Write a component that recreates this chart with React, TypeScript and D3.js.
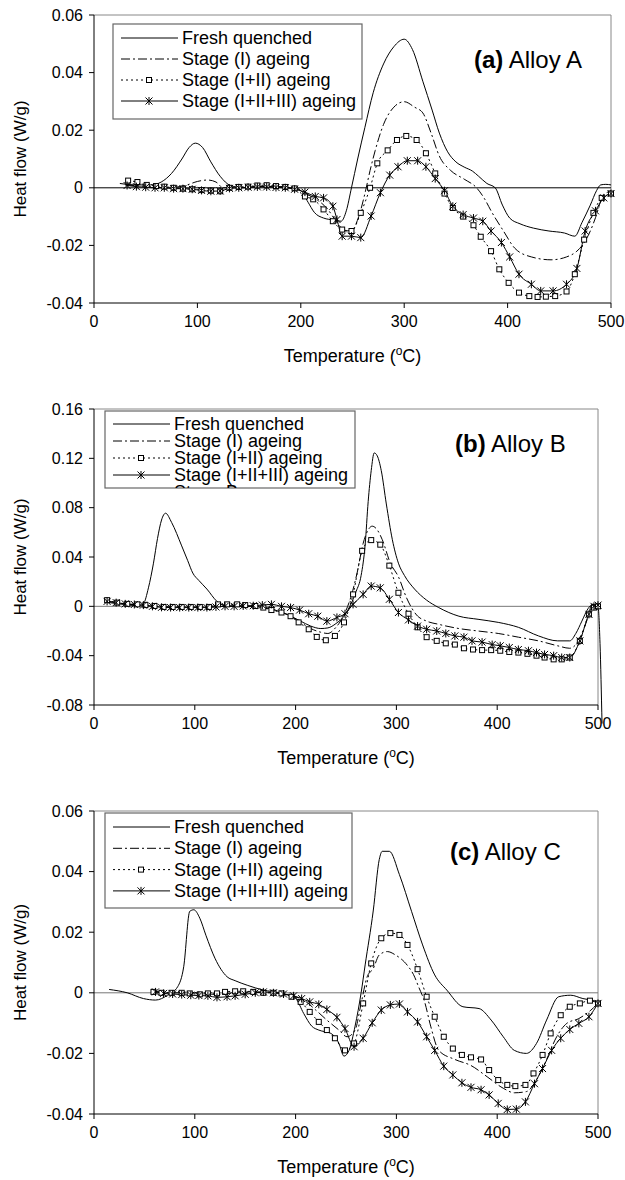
import React from "react";
import * as d3 from "d3";

type Pt = [number, number];

const xTicks = [0, 100, 200, 300, 400, 500];
const aYTicks = [-0.04, -0.02, 0, 0.02, 0.04, 0.06];
const bYTicks = [-0.08, -0.04, 0, 0.04, 0.08, 0.12, 0.16];
const cYTicks = [-0.04, -0.02, 0, 0.02, 0.04, 0.06];
const seriesNames = ["Fresh quenched", "Stage (I) ageing", "Stage (I+II) ageing", "Stage (I+II+III) ageing"];

// ---- Panel (a) Alloy A ----
const aFresh: Pt[] = [[25,0.0015],[40,0.001],[55,0.001],[65,0.002],[75,0.005],[85,0.01],[92,0.014],[98,0.0155],[105,0.014],[113,0.009],[122,0.004],[132,0.0008],[145,0],[160,0.0005],[175,0.0005],[190,0],[200,-0.001],[207,-0.005],[213,-0.0085],[222,-0.0105],[232,-0.0112],[239,-0.0116],[244,-0.008],[249,0],[255,0.01],[262,0.021],[270,0.033],[280,0.043],[290,0.049],[300,0.0516],[308,0.048],[318,0.037],[327,0.027],[334,0.019],[342,0.0125],[350,0.009],[358,0.0072],[366,0.0058],[372,0.004],[380,0.0015],[388,0],[395,-0.006],[402,-0.0105],[412,-0.0125],[425,-0.014],[440,-0.015],[455,-0.0157],[465,-0.0168],[472,-0.012],[480,-0.006],[486,-0.001],[490,0.001],[495,0.0012],[500,0.001]];
const aStage1: Pt[] = [[30,0.001],[50,0.0005],[70,0],[90,0.001],[100,0.0022],[110,0.0027],[118,0.002],[125,0],[140,0],[160,0.0005],[180,0.0003],[195,0],[205,-0.002],[215,-0.004],[225,-0.007],[235,-0.012],[243,-0.015],[250,-0.0145],[256,-0.01],[262,-0.002],[267,0.006],[272,0.013],[280,0.022],[290,0.028],[300,0.0299],[310,0.028],[318,0.026],[326,0.019],[334,0.011],[345,0.006],[358,0.003],[370,0],[378,-0.004],[384,-0.008],[396,-0.015],[407,-0.021],[423,-0.024],[442,-0.025],[457,-0.024],[467,-0.022],[473,-0.0196],[480,-0.015],[485,-0.0104],[492,-0.003],[500,-0.001]];
const aStage12: Pt[] = [[33,0.0025],[42,0.002],[51,0.001],[60,0.0006],[68,0.0004],[77,0],[86,-0.0003],[95,-0.0005],[104,-0.0008],[113,-0.001],[122,-0.0012],[131,0],[140,0.0003],[149,0.0004],[158,0.0008],[167,0.0009],[176,0.0006],[185,0.0003],[194,-0.0002],[204,-0.003],[212,-0.004],[222,-0.0075],[231,-0.0116],[240,-0.0145],[249,-0.015],[258,-0.0087],[267,0],[274,0.0085],[284,0.013],[293,0.0166],[302,0.018],[312,0.0166],[321,0.012],[330,0.005],[339,-0.002],[347,-0.007],[357,-0.01],[367,-0.013],[374,-0.017],[384,-0.022],[392,-0.0283],[401,-0.033],[411,-0.0364],[421,-0.0376],[429,-0.0379],[437,-0.0378],[446,-0.0376],[457,-0.036],[465,-0.03],[474,-0.018],[483,-0.0087],[491,-0.0035],[500,-0.002]];
const aStage123: Pt[] = [[32,0.0008],[41,0.0004],[50,0.0002],[59,0],[68,0],[77,-0.0003],[86,-0.0003],[95,-0.0005],[104,-0.0009],[113,-0.0012],[122,-0.0011],[131,-0.0002],[140,0],[149,0.0002],[158,0.0003],[167,0.0003],[176,0.0001],[185,0],[194,-0.0005],[204,-0.0015],[214,-0.003],[222,-0.0035],[231,-0.0064],[235,-0.011],[240,-0.0168],[249,-0.0168],[258,-0.0173],[268,-0.0098],[277,-0.0017],[286,0.0044],[294,0.0073],[303,0.0094],[313,0.0094],[321,0.0073],[330,0.0032],[339,-0.001],[347,-0.0064],[357,-0.0093],[367,-0.0105],[376,-0.0116],[384,-0.015],[394,-0.019],[402,-0.024],[411,-0.03],[423,-0.0335],[432,-0.0358],[444,-0.0358],[457,-0.0335],[467,-0.028],[475,-0.015],[485,-0.008],[493,-0.0035],[500,-0.002]];

// ---- Panel (b) Alloy B ----
const bFresh: Pt[] = [[15,0.003],[25,0.002],[35,0.001],[45,0.0005],[49,0.002],[54,0.015],[59,0.035],[63,0.055],[67,0.07],[71,0.0755],[77,0.068],[87,0.049],[93,0.037],[98,0.027],[104,0.021],[112,0.014],[122,0.004],[132,0],[150,0],[165,-0.0005],[175,-0.002],[190,-0.006],[205,-0.012],[215,-0.016],[225,-0.018],[232,-0.0175],[240,-0.014],[248,-0.008],[255,0.002],[260,0.012],[265,0.025],[269,0.05],[272,0.085],[275,0.11],[278,0.1244],[281,0.122],[285,0.11],[290,0.083],[296,0.054],[302,0.035],[308,0.025],[318,0.014],[330,0.005],[342,-0.001],[352,-0.005],[362,-0.008],[381,-0.0105],[401,-0.013],[421,-0.017],[441,-0.024],[460,-0.028],[472,-0.028],[478,-0.022],[484,-0.012],[490,-0.002],[495,0.0015],[500,0],[502,-0.03],[504,-0.095]];
const bStage1: Pt[] = [[15,0.004],[30,0.002],[45,0.001],[60,0],[80,-0.0005],[100,-0.0005],[120,-0.0003],[140,0.0005],[160,0],[175,-0.002],[190,-0.006],[205,-0.013],[215,-0.018],[225,-0.021],[232,-0.022],[240,-0.017],[248,-0.007],[255,0.008],[261,0.027],[267,0.051],[272,0.062],[276,0.065],[281,0.062],[286,0.054],[294,0.035],[302,0.024],[310,0.007],[320,-0.007],[330,-0.012],[342,-0.0146],[362,-0.018],[381,-0.02],[401,-0.022],[421,-0.025],[441,-0.028],[460,-0.032],[472,-0.034],[478,-0.031],[484,-0.022],[490,-0.009],[494,0.0016],[498,0.002],[501,0]];
const bStage12: Pt[] = [[13,0.005],[23,0.003],[33,0.002],[43,0.0016],[51,0.001],[60,0.0003],[69,-0.0005],[78,-0.0005],[87,-0.0005],[96,-0.0005],[105,-0.0005],[114,-0.0005],[123,0.0016],[132,0.0016],[142,0.0016],[150,0.001],[160,0.0003],[168,-0.001],[176,-0.003],[186,-0.005],[195,-0.008],[203,-0.013],[213,-0.0186],[221,-0.0248],[230,-0.0275],[239,-0.024],[248,-0.013],[257,0.0097],[266,0.045],[275,0.0537],[284,0.05],[293,0.033],[302,0.011],[312,-0.006],[321,-0.017],[330,-0.025],[340,-0.028],[349,-0.03],[358,-0.031],[367,-0.034],[376,-0.035],[385,-0.0355],[394,-0.0355],[403,-0.036],[412,-0.037],[421,-0.0375],[430,-0.0385],[439,-0.04],[447,-0.0415],[456,-0.043],[464,-0.043],[472,-0.0415],[482,-0.028],[491,-0.0065],[496,-0.001],[500,0]];
const bStage123: Pt[] = [[13,0.004],[22,0.003],[31,0.002],[40,0.0015],[49,0.001],[58,0],[67,-0.0008],[76,-0.001],[85,-0.001],[94,-0.001],[103,-0.001],[112,-0.001],[121,-0.0005],[130,0],[139,0],[148,0.0003],[158,0.0005],[167,0.001],[176,0.0016],[186,0],[195,-0.001],[204,-0.003],[213,-0.006],[222,-0.008],[231,-0.012],[241,-0.009],[249,-0.006],[257,0.0016],[267,0.0097],[275,0.0164],[284,0.015],[293,0.0057],[302,-0.005],[312,-0.011],[321,-0.016],[330,-0.0186],[340,-0.02],[349,-0.022],[358,-0.024],[367,-0.025],[375,-0.028],[385,-0.029],[395,-0.031],[403,-0.032],[412,-0.0334],[421,-0.035],[431,-0.036],[439,-0.0375],[447,-0.039],[456,-0.04],[464,-0.0415],[472,-0.0415],[482,-0.028],[491,-0.0065],[496,0],[500,0.001]];

// ---- Panel (c) Alloy C ----
const cFresh: Pt[] = [[15,0.0011],[33,0],[49,-0.0019],[61,-0.0024],[73,-0.0008],[83,0.002],[89,0.0086],[95,0.0269],[99,0.0274],[105,0.0246],[111,0.019],[120,0.0114],[132,0.0053],[140,0.004],[152,0.0025],[168,0.0009],[184,0],[200,-0.0019],[208,-0.0068],[216,-0.011],[223,-0.0123],[235,-0.0134],[243,-0.0167],[248,-0.0209],[253,-0.019],[259,-0.011],[265,0],[269,0.0092],[277,0.027],[283,0.044],[286,0.0467],[293,0.0467],[303,0.039],[315,0.0269],[326,0.0158],[338,0.0059],[350,0.0009],[366,-0.0046],[382,-0.0052],[394,-0.009],[406,-0.0145],[417,-0.019],[429,-0.02],[439,-0.0167],[449,-0.009],[461,-0.0013],[473,-0.0008],[485,-0.0019],[493,-0.0024],[500,-0.003]];
const cStage1: Pt[] = [[60,0.0005],[80,0],[100,0],[120,-0.0005],[140,0],[160,0.0003],[180,0],[195,-0.001],[208,-0.0024],[220,-0.0057],[231,-0.009],[243,-0.0123],[251,-0.0145],[259,-0.0123],[265,-0.0035],[271,0.0053],[277,0.008],[283,0.0125],[291,0.0136],[299,0.0125],[311,0.009],[317,0.006],[322,0.002],[328,-0.003],[334,-0.011],[342,-0.019],[358,-0.022],[374,-0.024],[390,-0.0277],[406,-0.0315],[417,-0.033],[429,-0.0326],[439,-0.0287],[449,-0.022],[459,-0.0145],[469,-0.0101],[481,-0.0085],[493,-0.0057],[500,-0.0035]];
const cStage12: Pt[] = [[59,0.0003],[67,0],[77,0],[87,0],[95,-0.0002],[105,-0.0005],[113,-0.0002],[122,-0.0002],[130,0.0003],[140,0.0005],[148,0.0005],[158,0.0003],[168,0],[178,0],[186,-0.0002],[196,-0.0013],[205,-0.003],[214,-0.0063],[223,-0.0096],[231,-0.0123],[239,-0.015],[249,-0.019],[258,-0.0167],[267,-0.0035],[275,0.0097],[285,0.018],[294,0.0197],[303,0.0191],[311,0.0158],[321,0.0078],[330,-0.0013],[338,-0.0079],[347,-0.0145],[356,-0.0184],[365,-0.0205],[374,-0.0213],[384,-0.022],[392,-0.0255],[401,-0.0288],[410,-0.0304],[418,-0.0308],[428,-0.0304],[436,-0.0266],[445,-0.0205],[453,-0.0134],[463,-0.0074],[472,-0.0046],[482,-0.0035],[492,-0.0026],[500,-0.0035]];
const cStage123: Pt[] = [[61,0.0003],[69,-0.0002],[78,-0.0004],[87,-0.0006],[96,-0.0008],[104,-0.0009],[113,-0.001],[122,-0.0015],[132,-0.0013],[140,-0.001],[150,-0.0005],[160,0],[168,0.0003],[178,0],[188,-0.0004],[198,-0.001],[206,-0.0019],[214,-0.003],[223,-0.0038],[231,-0.0055],[241,-0.0081],[249,-0.0118],[258,-0.0178],[267,-0.015],[276,-0.0099],[285,-0.0057],[294,-0.004],[303,-0.0037],[311,-0.0063],[321,-0.0096],[330,-0.0145],[338,-0.019],[347,-0.0242],[356,-0.0271],[365,-0.0297],[374,-0.0312],[384,-0.032],[392,-0.0337],[401,-0.0365],[410,-0.0385],[419,-0.0384],[428,-0.036],[437,-0.03],[445,-0.025],[454,-0.019],[463,-0.015],[472,-0.0121],[481,-0.0101],[491,-0.0079],[500,-0.0035]];

const FONT = "Arial, 'Liberation Sans', Helvetica, sans-serif";

type PanelCfg = {
  letter: string; name: string; series: Pt[][]; yTicks: number[];
  box: { l: number; r: number; t: number; b: number };
  legend: { x: number; y: number; w: number; h: number; first: number; row: number; extra?: string };
  label: { x: number; y: number };
  zeroColor: string;
};

const panels: PanelCfg[] = [
  { letter: "(a)", name: "Alloy A", series: [aFresh, aStage1, aStage12, aStage123], yTicks: aYTicks,
    box: { l: 94, r: 611, t: 15, b: 303 }, legend: { x: 113, y: 24, w: 249, h: 95, first: 44, row: 21 },
    label: { x: 474, y: 68 }, zeroColor: "#000" },
  { letter: "(b)", name: "Alloy B", series: [bFresh, bStage1, bStage12, bStage123], yTicks: bYTicks,
    box: { l: 94, r: 598, t: 409, b: 705 }, legend: { x: 105, y: 411, w: 250, h: 77, first: 430, row: 17, extra: "Stage B" },
    label: { x: 455, y: 452 }, zeroColor: "#777" },
  { letter: "(c)", name: "Alloy C", series: [cFresh, cStage1, cStage12, cStage123], yTicks: cYTicks,
    box: { l: 94, r: 598, t: 811, b: 1114 }, legend: { x: 105, y: 813, w: 247, h: 95, first: 833, row: 21.3 },
    label: { x: 450, y: 860 }, zeroColor: "#777" },
];

const dashes = [undefined, "9,3,2,3", "2,3", undefined];

function Square({ x, y }: { x: number; y: number }) {
  return <rect x={x - 2.5} y={y - 2.5} width={5} height={5} fill="#fff" stroke="#000" strokeWidth={1} />;
}
function Star({ x, y }: { x: number; y: number }) {
  const s = 3.5;
  return <path d={`M${x - s},${y - s}L${x + s},${y + s}M${x - s},${y + s}L${x + s},${y - s}M${x},${y - s - 0.5}L${x},${y + s + 0.5}`} stroke="#000" strokeWidth={1} fill="none" />;
}

function Panel({ p, idx }: { p: PanelCfg; idx: number }) {
  const { box } = p;
  const x = d3.scaleLinear().domain([0, 500]).range([box.l, box.r]);
  const yMin = p.yTicks[0], yMax = p.yTicks[p.yTicks.length - 1];
  const y = d3.scaleLinear().domain([yMin, yMax]).range([box.b, box.t]);
  const line = d3.line<Pt>().x(d => x(d[0])).y(d => y(d[1])).curve(d3.curveMonotoneX);
  const fmt = (v: number) => (Math.abs(v) < 1e-9 ? "0" : v.toFixed(2));
  const lg = p.legend;
  const clipId = `lg${idx}`;
  const cy = (box.t + box.b) / 2;
  return (
    <g fontFamily={FONT}>
      <line x1={box.l} x2={box.r} y1={box.t} y2={box.t} stroke="#888" strokeWidth={1} />
      <line x1={box.r} x2={box.r} y1={box.t} y2={box.b} stroke="#888" strokeWidth={1} />
      <line x1={box.l} x2={box.r} y1={y(0)} y2={y(0)} stroke={p.zeroColor} strokeWidth={1} />
      <line x1={box.l} x2={box.l} y1={box.t} y2={box.b} stroke="#000" strokeWidth={1} />
      <line x1={box.l} x2={box.r} y1={box.b} y2={box.b} stroke="#000" strokeWidth={1} />
      {p.yTicks.map(t => (
        <g key={t}>
          <line x1={box.l - 5} x2={box.l} y1={y(t)} y2={y(t)} stroke="#000" />
          <text x={box.l - 11} y={y(t)} dy="0.35em" textAnchor="end" fontSize={16}>{fmt(t)}</text>
        </g>
      ))}
      {xTicks.map(t => (
        <g key={t}>
          <line x1={x(t)} x2={x(t)} y1={box.b} y2={box.b + 5} stroke="#000" />
          <text x={x(t)} y={box.b + 24} textAnchor="middle" fontSize={16}>{t}</text>
        </g>
      ))}
      <text x={(box.l + box.r) / 2} y={box.b + 59} textAnchor="middle" fontSize={18}>
        Temperature (<tspan dy={-7} fontSize={12}>o</tspan><tspan dy={7}>C)</tspan>
      </text>
      <text transform={`translate(26,${cy}) rotate(-90)`} textAnchor="middle" fontSize={17}>Heat flow (W/g)</text>
      {p.series.map((s, i) => (
        <path key={i} d={line(s) || ""} fill="none" stroke="#000" strokeWidth={1} strokeDasharray={dashes[i]} />
      ))}
      {p.series[2].map((d, i) => <Square key={`s${i}`} x={x(d[0])} y={y(d[1])} />)}
      {p.series[3].map((d, i) => <Star key={`a${i}`} x={x(d[0])} y={y(d[1])} />)}
      <clipPath id={clipId}><rect x={lg.x} y={lg.y} width={lg.w} height={lg.h} /></clipPath>
      <rect x={lg.x} y={lg.y} width={lg.w} height={lg.h} fill="#fff" stroke="#666" strokeWidth={1.2} />
      <g clipPath={`url(#${clipId})`}>
        {seriesNames.map((n, i) => {
          const by = lg.first + i * lg.row;
          const ly = by - 6;
          return (
            <g key={n}>
              <line x1={lg.x + 8} x2={lg.x + 65} y1={ly} y2={ly} stroke="#000" strokeDasharray={dashes[i]} />
              {i === 2 && <Square x={lg.x + 36} y={ly} />}
              {i === 3 && <Star x={lg.x + 36} y={ly} />}
              <text x={lg.x + 69} y={by} fontSize={18}>{n}</text>
            </g>
          );
        })}
        {lg.extra && <text x={lg.x + 69} y={lg.first + 4 * lg.row} fontSize={18}>{lg.extra}</text>}
      </g>
      <text x={p.label.x} y={p.label.y} fontSize={24}>
        <tspan fontWeight="bold">{p.letter}</tspan> {p.name}
      </text>
    </g>
  );
}

export default function App() {
  return (
    <svg width={625} height={1180} style={{ display: "block", position: "absolute", left: 0, top: 0, background: "#fff" }}>
      <rect width={625} height={1180} fill="#fff" />
      {panels.map((p, i) => <Panel key={i} p={p} idx={i} />)}
    </svg>
  );
}
